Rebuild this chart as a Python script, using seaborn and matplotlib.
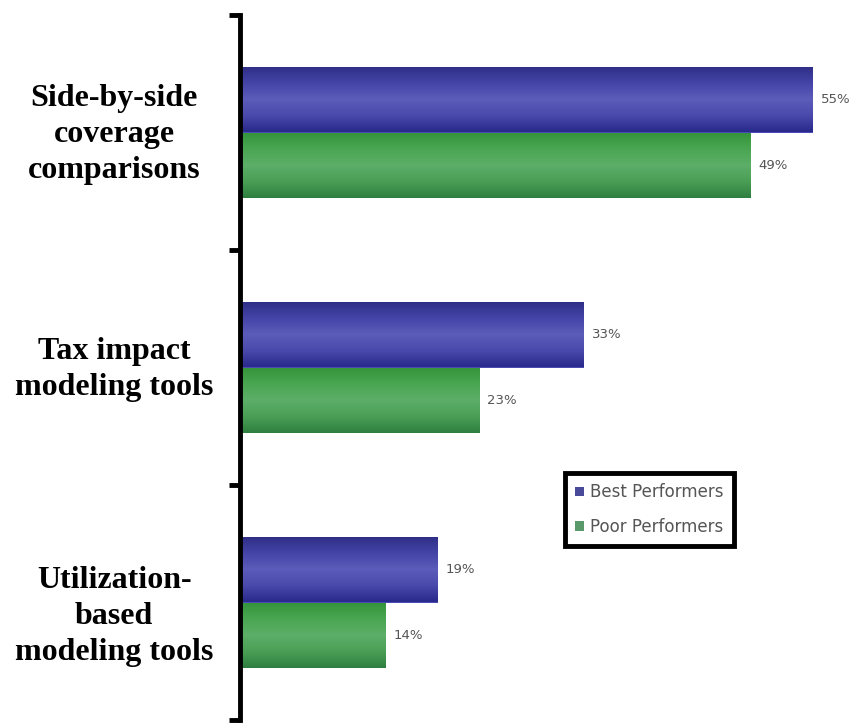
import numpy as np
import pandas as pd
import matplotlib
matplotlib.use("Agg")
import matplotlib.pyplot as plt
from matplotlib.colors import LinearSegmentedColormap
from matplotlib.patches import Patch
import seaborn as sns

# Survey data: share of firms offering each decision-support tool
categories = ["Side-by-side\ncoverage\ncomparisons",
              "Tax impact\nmodeling tools",
              "Utilization-\nbased\nmodeling tools"]
groups = ["Best Performers", "Poor Performers"]
best_values = [55, 33, 19]
poor_values = [49, 23, 14]

df = pd.DataFrame({
    "tool": categories * 2,
    "group": [groups[0]] * 3 + [groups[1]] * 3,
    "pct": best_values + poor_values,
})

sns.set_theme(style="white")
plt.rcParams["font.family"] = ["DejaVu Sans"]

W, H, DPI = 860, 723, 100
fig = plt.figure(figsize=(W / DPI, H / DPI), dpi=DPI)
fig.patch.set_facecolor("white")

# axes spans from the y-axis line to the right edge of the canvas
ax_left, ax_right = 240, 860
ax_top, ax_bottom = 15, 720
ax = fig.add_axes([ax_left / W, (H - ax_bottom) / H,
                   (ax_right - ax_left) / W, (ax_bottom - ax_top) / H])

palette = {"Best Performers": "#4b4bb4", "Poor Performers": "#48a050"}
sns.barplot(data=df, y="tool", x="pct", hue="group", order=categories,
            hue_order=groups, palette=palette, orient="h", width=0.56,
            saturation=1, ax=ax, legend=False, edgecolor="none", linewidth=0)

# vertical shading inside each bar: darker edges, lighter middle
shades = {
    "Best Performers": ["#2e2e86", "#4444a8", "#5c5cba", "#4a4aac", "#2a2a8c"],
    "Poor Performers": ["#34943a", "#4aa652", "#5cae68", "#4a9f56", "#2f8040"],
}
all_values = best_values + poor_values
bar_patches = [p for p in ax.patches if p.get_height() > 0]
for i, p in enumerate(bar_patches):
    grp = groups[i // 3]
    cmap = LinearSegmentedColormap.from_list(grp, shades[grp])
    x0, y0 = p.get_x(), p.get_y()
    w, h = p.get_width(), p.get_height()
    grad = np.linspace(0, 1, 64).reshape(-1, 1)
    im = ax.imshow(grad, cmap=cmap, aspect="auto", origin="upper",
                   extent=[x0, x0 + w, y0 + h, y0], zorder=p.get_zorder() + 0.1)
    im.set_clip_path(p)
    # value label to the right of the bar
    ax.text(x0 + w + 0.75, y0 + h / 2, f"{all_values[i]}%", va="center",
            ha="left", fontsize=9.5, color="#555555", zorder=5)

ax.set_xlim(0, (ax_right - ax_left) / (573 / 55))
ax.set_ylim(2.5, -0.5)

# category labels, centred multi-line serif text
label_offsets = [0.01, 0.01, 0.06]
for j, cat in enumerate(categories):
    ax.text(-0.203, j + label_offsets[j], cat,
            transform=ax.get_yaxis_transform(),
            ha="center", va="center", multialignment="center",
            fontsize=23, fontweight="bold", family="Liberation Serif",
            color="black", linespacing=1.32)

ax.set_yticks([-0.5, 0.5, 1.5, 2.5])
ax.set_yticklabels([])
ax.tick_params(axis="y", direction="out", length=8, width=3.5, color="black",
               left=True)
ax.set_xticks([])
ax.set_xlabel("")
ax.set_ylabel("")
for side in ["top", "right", "bottom"]:
    ax.spines[side].set_visible(False)
ax.spines["left"].set_linewidth(3.5)
ax.spines["left"].set_color("black")

# legend box
handles = [Patch(facecolor="#4a4a9a", edgecolor="none"),
           Patch(facecolor="#5a9a6a", edgecolor="none")]
leg = fig.legend(handles, groups, loc="upper left",
                 bbox_to_anchor=(557 / W, (H - 465) / H),
                 frameon=True, fancybox=False, framealpha=1, fontsize=12,
                 handlelength=0.5, handleheight=0.5, handletextpad=0.4,
                 labelspacing=1.0, borderpad=0.6, borderaxespad=0.5,
                 labelcolor="#555555")
leg.get_frame().set_edgecolor("black")
leg.get_frame().set_linewidth(3.5)

fig.savefig("out.png", dpi=DPI, facecolor="white")
